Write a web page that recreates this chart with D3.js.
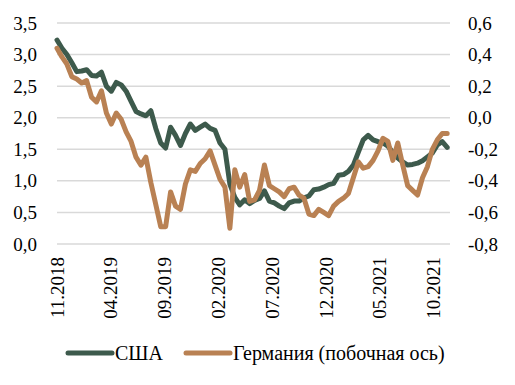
<!DOCTYPE html>
<html>
<head>
<meta charset="utf-8">
<script src="https://cdn.jsdelivr.net/npm/d3@7"></script>
<style>
  body { margin: 0; background: #fff; }
  text { font-family: "Liberation Serif", "Times New Roman", serif; fill: #000; }
</style>
</head>
<body>
<div class="chart"></div>
<script>
// series start and step (biweekly observations)
const startDate = '2018-11-01'
const stepDays = 14

// США, left axis
const usa = [
  3.23, 3.10, 3.00, 2.87, 2.73, 2.74, 2.76, 2.67, 2.66, 2.72,
  2.50, 2.42, 2.56, 2.52, 2.42, 2.26, 2.10, 2.06, 2.03, 2.11,
  1.83, 1.60, 1.52, 1.85, 1.72, 1.56, 1.75, 1.90, 1.80, 1.85,
  1.90, 1.83, 1.80, 1.60, 1.50, 0.95, 0.74, 0.62, 0.70, 0.64,
  0.69, 0.72, 0.84, 0.68, 0.65, 0.60, 0.56, 0.65, 0.68, 0.68,
  0.73, 0.76, 0.86, 0.87, 0.90, 0.94, 0.96, 1.09, 1.10, 1.15,
  1.25, 1.45, 1.65, 1.72, 1.65, 1.62, 1.60, 1.55, 1.45, 1.36,
  1.30, 1.25, 1.26, 1.28, 1.32, 1.38, 1.44, 1.57, 1.62, 1.53
]
// Германия, right axis
const germany = [
  0.44, 0.385, 0.34, 0.26, 0.245, 0.22, 0.235, 0.13, 0.10, 0.17,
  0.03, -0.04, 0.03, -0.01, -0.09, -0.15, -0.25, -0.30, -0.25, -0.41,
  -0.55, -0.69, -0.69, -0.47, -0.56, -0.58, -0.42, -0.33, -0.34, -0.29,
  -0.26, -0.21, -0.30, -0.39, -0.44, -0.70, -0.33, -0.44, -0.36, -0.53,
  -0.52, -0.46, -0.30, -0.43, -0.45, -0.47, -0.50, -0.45, -0.44, -0.49,
  -0.51, -0.61, -0.62, -0.58, -0.60, -0.62, -0.56, -0.53, -0.51, -0.48,
  -0.38, -0.28, -0.32, -0.31, -0.27, -0.21, -0.13, -0.15, -0.27, -0.16,
  -0.30, -0.43, -0.46, -0.49, -0.38, -0.31, -0.20, -0.14, -0.10, -0.10
]

const xTicks = ['2018-11', '2019-04', '2019-09', '2020-02', '2020-07', '2020-12', '2021-05', '2021-10']
const leftTicks = [0, 0.5, 1, 1.5, 2, 2.5, 3, 3.5]
const rightTicks = [-0.8, -0.6, -0.4, -0.2, 0, 0.2, 0.4, 0.6]
const legendNames = ['США', 'Германия (побочная ось)']

createChart()

//helpers

function createChart() {
  const width = 515
  const height = 385
  const m = { top: 23, left: 57, right: 65, bottom: 141 }
  const colors = ['#3d5a4c', '#b98153']
  const lw = 5

  const parse = d3.timeParse('%Y-%m-%d')
  const t0 = parse(startDate)
  const dates = usa.map((d, i) => d3.timeDay.offset(t0, i * stepDays))

  const svg = d3.select('.chart')
    .append('svg')
    .attr('width', width)
    .attr('height', height)

  const x = d3.scaleTime()
    .domain([t0, parse('2021-11-19')])
    .range([m.left, width - m.right])
  const yL = d3.scaleLinear().domain([0, 3.5]).range([height - m.bottom, m.top])
  const yR = d3.scaleLinear().domain([-0.8, 0.6]).range([height - m.bottom, m.top])

  // gridlines
  svg.append('g')
    .selectAll('line')
    .data(leftTicks)
    .enter()
    .append('line')
    .attr('x1', m.left)
    .attr('x2', width - m.right)
    .attr('y1', (d) => yL(d))
    .attr('y2', (d) => yL(d))
    .attr('stroke', '#d9d9d9')
    .attr('stroke-width', 1.5)

  const fmt = (d) => d3.format('.1f')(d).replace('.', ',').replace('−', '-')

  const left = svg.append('g')
    .attr('transform', `translate(${m.left - 20},0)`)
    .call(d3.axisLeft(yL).tickValues(leftTicks).tickFormat(fmt).tickSize(0).tickPadding(0))
  left.select('.domain').remove()

  const right = svg.append('g')
    .attr('transform', `translate(${width - m.right + 18},0)`)
    .call(d3.axisRight(yR).tickValues(rightTicks).tickFormat(fmt).tickSize(0).tickPadding(0))
  right.select('.domain').remove()

  const parseM = d3.timeParse('%Y-%m')
  const bottom = svg.append('g')
    .attr('transform', `translate(0,${height - m.bottom + 13})`)
    .call(d3.axisBottom(x).tickValues(xTicks.map(parseM)).tickFormat(d3.timeFormat('%m.%Y')).tickSize(0).tickPadding(0))
  bottom.select('.domain').remove()
  bottom.selectAll('text')
    .attr('transform', 'rotate(-90)')
    .attr('text-anchor', 'end')
    .attr('x', 0)
    .attr('y', 0)
    .attr('dy', '0.35em')

  svg.selectAll('.tick text')
    .style('font-size', '19px')
    .style('font-family', '"Liberation Serif", serif')
    .attr('fill', '#000')

  const lineL = d3.line().x((d, i) => x(dates[i])).y((d) => yL(d))
  const lineR = d3.line().x((d, i) => x(dates[i])).y((d) => yR(d))

  svg.append('path')
    .datum(usa)
    .attr('d', lineL)
    .attr('fill', 'none')
    .attr('stroke', colors[0])
    .attr('stroke-width', lw)
    .attr('stroke-linejoin', 'round')
    .attr('stroke-linecap', 'round')

  svg.append('path')
    .datum(germany)
    .attr('d', lineR)
    .attr('fill', 'none')
    .attr('stroke', colors[1])
    .attr('stroke-width', lw)
    .attr('stroke-linejoin', 'round')
    .attr('stroke-linecap', 'round')

  // legend
  const legendX = [68, 186]
  const legend = svg.append('g')
    .selectAll('g')
    .data(legendNames)
    .enter()
    .append('g')
    .attr('transform', (d, i) => `translate(${legendX[i]},353)`)

  legend.append('line')
    .attr('x1', 0)
    .attr('x2', 44)
    .attr('stroke', (d, i) => colors[i])
    .attr('stroke-width', lw)
    .attr('stroke-linecap', 'round')

  legend.append('text')
    .attr('x', 47)
    .attr('dy', '0.35em')
    .style('font-size', '20px')
    .text((d) => d)
}
</script>
</body>
</html>
